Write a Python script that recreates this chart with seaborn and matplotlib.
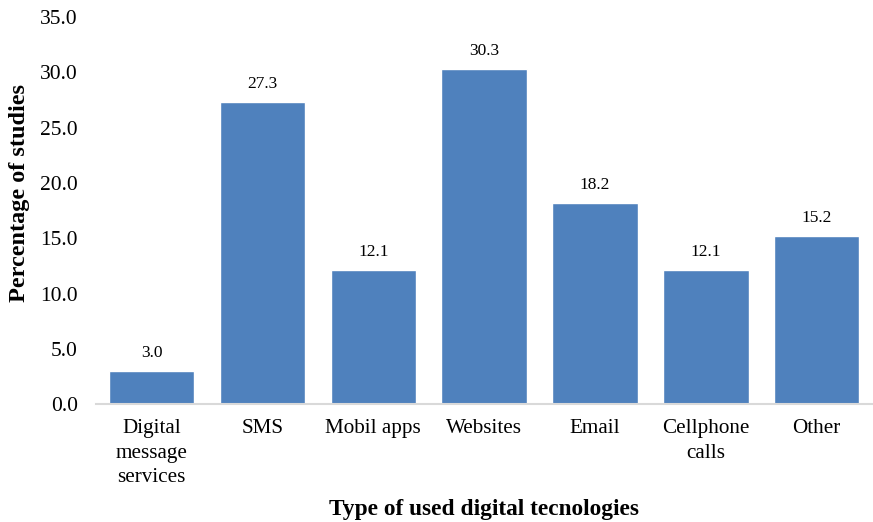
import matplotlib
matplotlib.use("Agg")
import matplotlib.pyplot as plt
import seaborn as sns
import pandas as pd

categories = ["Digital\nmessage\nservices", "SMS", "Mobil apps", "Websites",
              "Email", "Cellphone\ncalls", "Other"]
values = [3.0, 27.3, 12.1, 30.3, 18.2, 12.1, 15.2]
yticks = [0, 5, 10, 15, 20, 25, 30, 35]

sns.set_theme(style="white")
plt.rcParams["font.family"] = ["Liberation Serif", "DejaVu Serif"]
plt.rcParams["text.color"] = "black"
plt.rcParams["axes.labelcolor"] = "black"
plt.rcParams["xtick.color"] = "black"
plt.rcParams["ytick.color"] = "black"

df = pd.DataFrame({"cat": categories, "val": values})

fig = plt.figure(figsize=(8.73, 5.22), dpi=100)
ax = fig.add_axes([0.110, 0.226, 0.889, 0.741])
sns.barplot(data=df, x="cat", y="val", color="#4F81BD", saturation=1,
            width=0.77, ax=ax)

for i, v in enumerate(values):
    ax.text(i, v + 0.9, f"{v:.1f}", ha="center", va="bottom", fontsize=12.5)

ax.set_ylim(0, 35)
ax.set_xlim(-0.5, len(categories) - 0.5)
ax.set_yticks(yticks)
ax.set_yticklabels([f"{t:.1f}" for t in yticks], fontsize=15.5)
ax.tick_params(axis="x", labelsize=15.2, length=0, pad=11)
ax.tick_params(axis="y", length=0, pad=13)
for lbl in ax.get_xticklabels():
    lbl.set_linespacing(1.38)
ax.set_xlabel("Type of used digital tecnologies", fontsize=16.8, fontweight="bold", labelpad=9)
ax.set_ylabel("Percentage of studies", fontsize=17.5, fontweight="bold")
ax.yaxis.set_label_coords(-0.085, 0.545)
for s in ["top", "right", "left"]:
    ax.spines[s].set_visible(False)
ax.spines["bottom"].set_color("#D9D9D9")
ax.spines["bottom"].set_linewidth(1.5)
ax.grid(False)

fig.savefig("out.png", dpi=100)
